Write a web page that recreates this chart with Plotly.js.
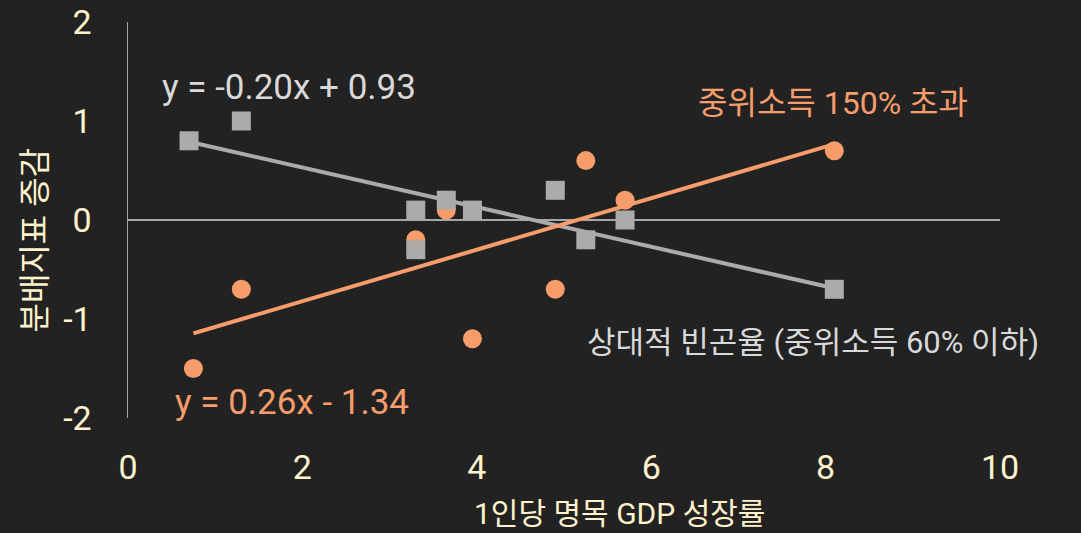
<!DOCTYPE html>
<html><head><meta charset="utf-8">
<script src="https://cdn.plot.ly/plotly-3.0.1.min.js"></script>
<style>html,body{margin:0;padding:0;background:#222222;}#chart{width:1081px;height:533px;}</style>
</head><body><div id="chart"></div>
<script>
// Data
const povertyX = [0.7, 1.3, 3.3, 3.3, 3.65, 3.95, 4.9, 5.25, 5.7, 8.1];
const povertyY = [0.8, 1.0, 0.1, -0.3, 0.2, 0.1, 0.3, -0.2, 0.0, -0.7];
const highX = [0.75, 1.3, 3.3, 3.65, 3.95, 4.9, 5.25, 5.7, 8.1];
const highY = [-1.5, -0.7, -0.2, 0.1, -1.2, -0.7, 0.6, 0.2, 0.7];
const povertySlope = -0.20, povertyIntercept = 0.93;
const highSlope = 0.26, highIntercept = -1.34;
const xTicks = [0, 2, 4, 6, 8, 10];
const yTicks = [-2, -1, 0, 1, 2];
const povertyName = '상대적 빈곤율 (중위소득 60% 이하)';
const highName = '중위소득 150% 초과';
const xTitle = '1인당 명목 GDP 성장률';
const yTitle = '분배지표 증감';

const FONT = "Roboto, 'Noto Sans CJK KR', sans-serif";
const ORANGE = '#F79D6B';
const GRAY = '#ADAAAA';
const CREAM = '#FFF2CC';

function lineEnds(xs, m, b) {
  const lo = Math.min(...xs), hi = Math.max(...xs);
  return {x: [lo, hi], y: [m * lo + b, m * hi + b]};
}
const pl = lineEnds(povertyX, povertySlope, povertyIntercept);
const hl = lineEnds(highX, highSlope, highIntercept);

const traces = [
  {x: highX, y: highY, mode: 'markers', type: 'scatter', name: highName,
   marker: {symbol: 'circle', size: 19, color: ORANGE}},
  {x: povertyX, y: povertyY, mode: 'markers', type: 'scatter', name: povertyName,
   marker: {symbol: 'square', size: 19, color: GRAY}},
  {x: pl.x, y: pl.y, mode: 'lines', type: 'scatter', line: {color: GRAY, width: 4}},
  {x: hl.x, y: hl.y, mode: 'lines', type: 'scatter', line: {color: ORANGE, width: 4}}
];

const fmt = v => Math.abs(v).toFixed(2);
const layout = {
  width: 1081, height: 533,
  paper_bgcolor: '#222222', plot_bgcolor: '#222222',
  margin: {l: 128, r: 81, t: 22, b: 115},
  showlegend: false,
  font: {family: FONT, color: CREAM},
  xaxis: {range: [0, 10], tickvals: xTicks, ticktext: xTicks.map(String),
    showgrid: false, zeroline: false, showline: false, ticks: '',
    tickfont: {size: 34, color: CREAM, family: FONT}, ticklabelstandoff: 26},
  yaxis: {range: [-2, 2], tickvals: yTicks, ticktext: yTicks.map(String),
    showgrid: false, zeroline: true, zerolinecolor: '#A6A6A6', zerolinewidth: 1.5,
    showline: true, linecolor: '#A6A6A6', linewidth: 1.5, ticks: '',
    tickfont: {size: 34, color: CREAM, family: FONT}, ticklabelstandoff: 28},
  annotations: [
    {x: 0.37, y: 1.34, xref: 'x', yref: 'y', xanchor: 'left', showarrow: false,
     text: 'y = ' + (povertySlope < 0 ? '-' : '') + fmt(povertySlope) + 'x ' + (povertyIntercept < 0 ? '- ' : '+ ') + fmt(povertyIntercept),
     font: {size: 35, color: '#D9D9D9', family: FONT}},
    {x: 0.52, y: -1.84, xref: 'x', yref: 'y', xanchor: 'left', showarrow: false,
     text: 'y = ' + (highSlope < 0 ? '-' : '') + fmt(highSlope) + 'x ' + (highIntercept < 0 ? '- ' : '+ ') + fmt(highIntercept),
     font: {size: 35, color: ORANGE, family: FONT}},
    {x: 8.08, y: 1.18, xref: 'x', yref: 'y', xanchor: 'center', showarrow: false,
     text: highName, font: {size: 32, color: ORANGE, family: FONT}},
    {x: 7.86, y: -1.24, xref: 'x', yref: 'y', xanchor: 'center', showarrow: false,
     text: povertyName, font: {size: 31, color: '#D9D9D9', family: FONT}},
    {x: 0.564, y: -0.242, xref: 'paper', yref: 'paper', xanchor: 'center', yanchor: 'middle', showarrow: false,
     text: xTitle, font: {size: 30, color: CREAM, family: FONT}},
    {x: -0.107, y: 0.45, xref: 'paper', yref: 'paper', xanchor: 'center', yanchor: 'middle', showarrow: false,
     textangle: -90, text: yTitle, font: {size: 32, color: CREAM, family: FONT}}
  ]
};
Plotly.newPlot('chart', traces, layout, {staticPlot: true, displayModeBar: false});
</script></body></html>
